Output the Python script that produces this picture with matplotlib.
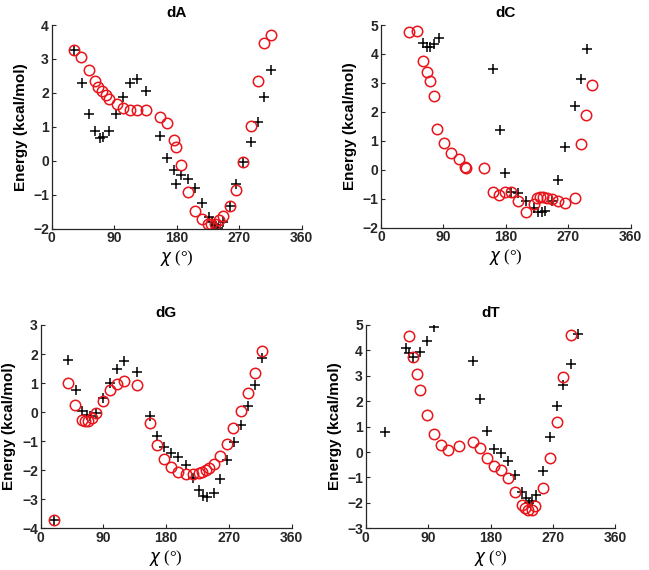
import matplotlib.pyplot as plt

plt.rcParams['font.family'] = ['Liberation Sans', 'DejaVu Sans']

# dA
dA_circ_x = [32, 42, 54, 62, 67, 72, 78, 82, 94, 103, 113, 123, 136, 156, 166, 176, 179, 186,
             196, 206, 216, 225, 230, 235, 241, 247, 257, 266, 276, 287, 297, 306, 316]
dA_circ_y = [3.27, 3.07, 2.68, 2.35, 2.18, 2.06, 1.94, 1.82, 1.66, 1.55, 1.50, 1.50, 1.50, 1.30, 1.10, 0.61, 0.41, -0.13,
             -0.91, -1.47, -1.72, -1.85, -1.85, -1.85, -1.75, -1.63, -1.33, -0.86, -0.05, 1.03, 2.35, 3.46, 3.71]
dA_plus_x = [32, 43, 54, 62, 69, 74, 83, 93, 102, 113, 123, 136, 156, 166, 176, 179, 186, 196,
             206, 216, 227, 231, 235, 240, 247, 257, 266, 276, 287, 297, 306, 316]
dA_plus_y = [3.27, 2.30, 1.38, 0.88, 0.68, 0.71, 0.88, 1.38, 1.89, 2.28, 2.41, 2.06, 0.74, 0.09, -0.27, -0.67, -0.42, -0.55,
             -0.80, -1.23, -1.65, -1.80, -1.90, -1.99, -1.80, -1.33, -0.67, -0.05, 0.56, 1.15, 1.87, 2.68]

# dC
dC_circ_x = [41, 52, 61, 66, 71, 76, 81, 91, 101, 112, 121, 122, 148, 161, 170, 179, 188, 198,
             209, 220, 225, 229, 234, 239, 246, 255, 265, 279, 288, 296, 304]
dC_circ_y = [4.75, 4.81, 3.77, 3.39, 3.08, 2.56, 1.41, 0.92, 0.57, 0.36, 0.11, 0.05, 0.07, -0.78, -0.87, -0.76, -0.76, -1.08,
             -1.45, -1.19, -0.98, -0.93, -0.93, -0.96, -1.01, -1.08, -1.16, -0.96, 0.89, 1.89, 2.93]
dC_plus_x = [60, 66, 71, 76, 83, 161, 171, 179, 188, 198, 209, 220, 227, 232, 237, 246, 255, 265, 279, 288, 297]
dC_plus_y = [4.37, 4.23, 4.23, 4.33, 4.54, 3.47, 1.37, -0.12, -0.76, -0.81, -1.08, -1.33, -1.47, -1.47, -1.43, -1.08,
             -0.35, 0.80, 2.21, 3.14, 4.17]

# dG
dG_circ_x = [19.5, 39.6, 49, 59, 64, 68, 74, 79, 90, 99, 109, 120, 138, 157, 167, 177, 187, 197, 208,
             218, 227, 232, 237, 242, 248, 257, 267, 276, 287, 297, 307, 317]
dG_circ_y = [-3.71, 0.99, 0.24, -0.27, -0.31, -0.31, -0.19, -0.04, 0.38, 0.76, 0.97, 1.07, 0.93, -0.36, -1.13, -1.63,
             -1.90, -2.05, -2.13, -2.14, -2.11, -2.05, -1.99, -1.91, -1.80, -1.51, -1.10, -0.56, 0.05, 0.65, 1.34, 2.11]
dG_plus_x = [19.5, 39.6, 50, 59, 66, 71, 80, 90, 99, 110, 120, 138, 157, 167, 177, 187, 197, 208, 218,
             227, 233, 238, 248, 257, 267, 277, 287, 298, 307, 317]
dG_plus_y = [-3.71, 1.79, 0.76, 0.03, -0.10, -0.15, -0.04, 0.47, 1.01, 1.47, 1.76, 1.39, -0.12, -0.82, -1.19, -1.40,
             -1.53, -1.82, -2.28, -2.68, -2.89, -2.93, -2.80, -2.31, -1.65, -1.02, -0.44, 0.22, 0.93, 1.85]

# dT
dT_circ_x = [63, 68, 73.5, 78, 88, 98.5, 108, 118, 134.5, 155, 165, 174.5, 185, 195, 205, 215, 225,
             230, 234.5, 239.5, 244, 255, 266, 275.5, 285, 295.5]
dT_circ_y = [4.57, 3.75, 3.06, 2.44, 1.46, 0.71, 0.28, 0.08, 0.25, 0.39, 0.15, -0.22, -0.55, -0.70, -1.01, -1.56, -2.08,
             -2.21, -2.27, -2.27, -2.12, -1.40, -0.25, 1.20, 2.97, 4.61]
dT_plus_x = [28, 58, 63, 68.5, 78, 89, 98.5, 155, 165, 174.5, 185, 195, 205, 215, 225, 231, 235.5,
             240, 245, 255, 266, 276, 285, 295.5, 306.5]
dT_plus_y = [0.77, 4.11, 3.89, 3.75, 3.95, 4.37, 4.91, 3.60, 2.09, 0.83, 0.11, -0.05, -0.34, -0.90, -1.56, -1.82, -2.02,
             -1.91, -1.69, -0.73, 0.58, 1.81, 2.64, 3.47, 4.64]

panels = [
    ('dA', dA_circ_x, dA_circ_y, dA_plus_x, dA_plus_y, (-2, 4), [0.0797, 0.5988, 0.3852, 0.3573]),
    ('dC', dC_circ_x, dC_circ_y, dC_plus_x, dC_plus_y, (-2, 5), [0.5871, 0.6005, 0.3848, 0.3556]),
    ('dG', dG_circ_x, dG_circ_y, dG_plus_x, dG_plus_y, (-4, 3), [0.0627, 0.0732, 0.3867, 0.3567]),
    ('dT', dT_circ_x, dT_circ_y, dT_plus_x, dT_plus_y, (-3, 5), [0.5635, 0.0732, 0.3848, 0.3567]),
]

fig = plt.figure(figsize=(6.49, 5.70), dpi=100)
edge = '#262626'

for name, cx, cy, px, py, ylim, pos in panels:
    ax = fig.add_axes(pos)
    ax.plot(px, py, '+', color='black', markersize=7, markeredgewidth=1.1)
    ax.plot(cx, cy, 'o', markerfacecolor='none', markeredgecolor='#e8151b',
            markersize=7.5, markeredgewidth=1.1)
    ax.set_xlim(0, 360)
    ax.set_ylim(*ylim)
    ax.set_xticks([0, 90, 180, 270, 360])
    ax.set_yticks(range(ylim[0], ylim[1] + 1))
    for s in ['top', 'right']:
        ax.spines[s].set_visible(False)
    for s in ['left', 'bottom']:
        ax.spines[s].set_color(edge)
        ax.spines[s].set_linewidth(0.9)
    ax.tick_params(direction='in', length=3, width=0.8, color=edge,
                   labelsize=10, labelcolor=edge, pad=2)
    for lab in ax.get_xticklabels() + ax.get_yticklabels():
        lab.set_fontweight('bold')
    ax.set_title(name, fontsize=11, fontweight='bold', pad=6)
    ax.set_ylabel('Energy (kcal/mol)', fontsize=11, fontweight='bold', labelpad=4)
    ax.set_xlabel(r'$\chi$ (°)', fontsize=12, family=['Liberation Serif', 'DejaVu Serif'], labelpad=2)

fig.savefig('out.png', dpi=100)
